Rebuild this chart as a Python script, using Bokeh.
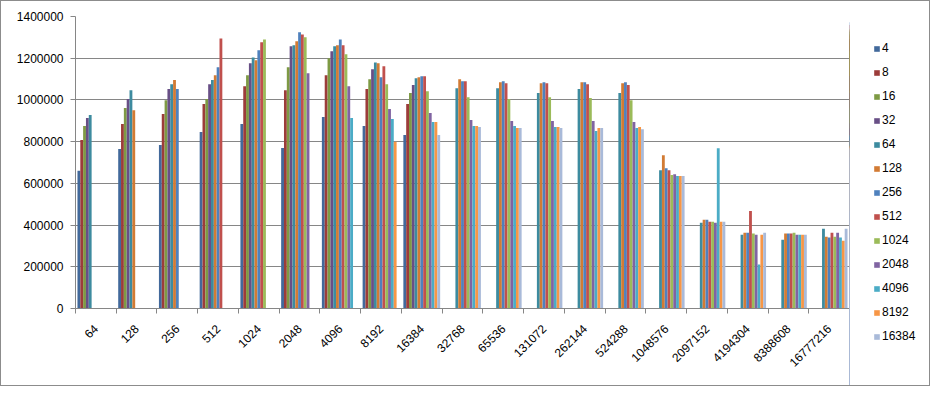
import math
import numpy as np
from bokeh.plotting import figure
from bokeh.layouts import row, column
from bokeh.models import (ColumnDataSource, Range1d, FixedTicker, NumeralTickFormatter,
                          Legend, LegendItem)
from bokeh.transform import dodge
from bokeh.embed import file_html
from bokeh.resources import INLINE

categories = ["64", "128", "256", "512", "1024", "2048", "4096", "8192", "16384",
              "32768", "65536", "131072", "262144", "524288", "1048576", "2097152",
              "4194304", "8388608", "16777216"]
series_names = ["4", "8", "16", "32", "64", "128", "256", "512", "1024", "2048",
                "4096", "8192", "16384"]

N = None
s4 = [660000, 765000, 784000, 846000, 885000, 770000, 918000, 875000, 832000,
      N, N, N, N, N, N, N, N, N, N]
s8 = [808000, 885000, 932000, 980000, 1066000, 1047000, 1118000, 1052000, 980000,
      N, N, N, N, N, N, N, N, N, N]
s16 = [875000, 961000, 998000, 1004000, 1118000, 1157000, 1200000, 1099000, 1033000,
       N, N, N, N, N, N, N, N, N, N]
s32 = [913000, 1004000, 1052000, 1075000, 1176000, 1257000, 1233000, 1147000, 1071000,
       N, N, N, N, N, N, N, N, N, N]
s64 = [928000, 1047000, 1075000, 1095000, 1204000, 1262000, 1257000, 1180000, 1104000,
       1056000, 1056000, 1033000, 1052000, 1033000, 663000, 411000, 354000, 330000, 382000]
s128 = [N, 951000, 1095000, 1118000, 1190000, 1281000, 1262000, 1176000, 1109000,
        1099000, 1085000, 1080000, 1085000, 1080000, 735000, 425000, 363000, 359000, 344000]
s256 = [N, N, 1052000, 1157000, 1238000, 1324000, 1290000, 1109000, 1114000,
        1090000, 1090000, 1085000, 1085000, 1085000, 673000, 425000, 363000, 359000, 340000]
s512 = [N, N, N, 1295000, 1276000, 1314000, 1262000, 1161000, 1114000,
        1090000, 1080000, 1080000, 1075000, 1071000, 663000, 416000, 468000, 359000, 363000]
s1024 = [N, N, N, N, 1290000, 1300000, 1219000, 1075000, 1042000,
         1013000, 1004000, 1013000, 1009000, 999000, 640000, 416000, 359000, 363000, 344000]
s2048 = [N, N, N, N, N, 1128000, 1066000, 956000, 937000,
         904000, 899000, 899000, 899000, 894000, 644000, 411000, 354000, 354000, 363000]
s4096 = [N, N, N, N, N, N, 913000, 908000, 894000,
         875000, 875000, 870000, 851000, 865000, 635000, 768000, 211000, 354000, 340000]
s8192 = [N, N, N, N, N, N, N, 799000, 894000,
         875000, 865000, 870000, 865000, 870000, 635000, 416000, 354000, 354000, 325000]
s16384 = [N, N, N, N, N, N, N, N, 832000,
          870000, 865000, 865000, 865000, 859000, 635000, 416000, 363000, 354000, 382000]

series_values = [s4, s8, s16, s32, s64, s128, s256, s512, s1024, s2048, s4096, s8192, s16384]
colors = ["#42699B", "#9C3C3A", "#7E9A44", "#684F86", "#3D8B9F", "#D27B34", "#4F81BD",
          "#C0504D", "#9BBB59", "#8064A2", "#4BACC6", "#F79646", "#A9BAD9"]

FONT = "Liberation Sans"
GRID = "#868686"

data = {"xc": [i + 0.5 for i in range(len(categories))]}
for name, vals in zip(series_names, series_values):
    data["s" + name] = [np.nan if v is None else v for v in vals]
source = ColumnDataSource(data)

p = figure(width=848, height=384, output_backend="svg", toolbar_location=None,
           x_range=Range1d(0, len(categories)), y_range=Range1d(0, 1400000),
           min_border_left=74, min_border_right=0, min_border_top=15, min_border_bottom=77)
p.outline_line_color = None
p.background_fill_color = "white"
p.border_fill_color = "white"

# legend panel figure (keys only; its ranges keep the key bars out of view)
lf = figure(width=80, height=384, output_backend="svg", toolbar_location=None,
            x_axis_location=None, y_axis_location=None,
            min_border_left=0, min_border_right=0, min_border_top=0, min_border_bottom=0,
            x_range=Range1d(100, 101), y_range=Range1d(0, 1400000))
lf.outline_line_color = None
lf.background_fill_color = "white"
lf.border_fill_color = "white"
lf.xgrid.visible = False
lf.ygrid.visible = False

bw = 0.0695
items = []
n = len(series_names)
for i, (name, col) in enumerate(zip(series_names, colors)):
    off = (i - (n - 1) / 2) * bw
    p.vbar(x=dodge("xc", off), top="s" + name, width=bw, bottom=0,
           source=source, fill_color=col, line_color=None)
    key = lf.vbar(x=dodge("xc", off), top="s" + name, width=bw, bottom=0,
                  source=source, fill_color=col, line_color=None)
    items.append(LegendItem(label=name, renderers=[key]))

p.xgrid.grid_line_color = None
p.ygrid.grid_line_color = GRID
p.ygrid.grid_line_width = 1

p.yaxis.ticker = FixedTicker(ticks=list(range(0, 1400001, 200000)))
p.yaxis.formatter = NumeralTickFormatter(format="0")
p.yaxis.axis_line_color = GRID
p.yaxis.major_tick_line_color = GRID
p.yaxis.major_tick_out = 5
p.yaxis.major_tick_in = 0
p.yaxis.minor_tick_line_color = None
p.yaxis.major_label_text_font = FONT
p.yaxis.major_label_text_font_size = "12px"
p.yaxis.major_label_text_color = "#000000"
p.yaxis.major_label_standoff = 7

p.xaxis.ticker = FixedTicker(ticks=[i + 0.5 for i in range(len(categories))],
                             minor_ticks=list(range(len(categories) + 1)))
p.xaxis.major_label_overrides = {i + 0.5: c for i, c in enumerate(categories)}
p.xaxis.major_label_orientation = math.pi / 4
p.xaxis.axis_line_color = GRID
p.xaxis.major_tick_line_color = None
p.xaxis.minor_tick_line_color = GRID
p.xaxis.minor_tick_out = 5
p.xaxis.minor_tick_in = 0
p.xaxis.major_label_text_font = FONT
p.xaxis.major_label_text_font_size = "12px"
p.xaxis.major_label_text_color = "#000000"
p.xaxis.major_label_standoff = 12

legend = Legend(items=items, location=(24, 42), padding=0, margin=0,
                spacing=10, glyph_width=7, glyph_height=7, label_height=14,
                label_standoff=2, label_text_font=FONT, label_text_font_size="12px",
                label_text_color="#000000", border_line_color=None,
                background_fill_alpha=0)
lf.add_layout(legend)

side = column(lf, spacing=0, styles={"border": "none", "outline": "none",
                                     "box-shadow": "none", "background-color": "white"})
layout = row(p, side, spacing=0,
             styles={"border": "1px solid #8c8c8c", "background-color": "white"})

open("out.html", "w").write(file_html(layout, INLINE))
